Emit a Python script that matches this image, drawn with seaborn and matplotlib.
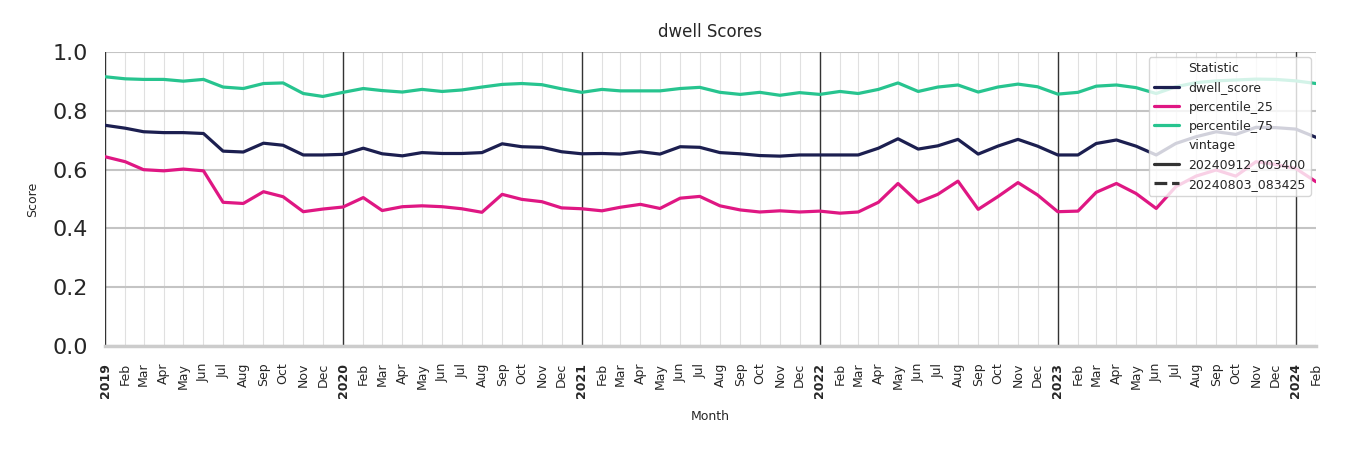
import matplotlib
matplotlib.use("Agg")
import matplotlib.pyplot as plt
import seaborn as sns
import pandas as pd
import numpy as np

months = pd.date_range("2019-01-01", "2024-02-01", freq="MS")

dwell_score = [0.751, 0.741, 0.729, 0.726, 0.726, 0.723, 0.663, 0.660, 0.690, 0.683,
               0.650, 0.650, 0.652, 0.673, 0.654, 0.647, 0.658, 0.655, 0.655, 0.658,
               0.688, 0.678, 0.676, 0.661, 0.654, 0.655, 0.653, 0.661, 0.653, 0.678,
               0.676, 0.658, 0.654, 0.648, 0.646, 0.650, 0.650, 0.650, 0.650, 0.673,
               0.705, 0.670, 0.681, 0.703, 0.653, 0.680, 0.703, 0.680, 0.650, 0.650,
               0.689, 0.701, 0.680, 0.650, 0.689, 0.712, 0.729, 0.720, 0.744, 0.743,
               0.738, 0.710]
percentile_25 = [0.644, 0.627, 0.600, 0.596, 0.602, 0.596, 0.489, 0.485, 0.525, 0.508,
                 0.457, 0.466, 0.473, 0.505, 0.461, 0.474, 0.477, 0.474, 0.467, 0.455,
                 0.516, 0.499, 0.491, 0.470, 0.467, 0.460, 0.472, 0.482, 0.468, 0.503,
                 0.509, 0.477, 0.463, 0.456, 0.460, 0.456, 0.459, 0.452, 0.456, 0.489,
                 0.553, 0.489, 0.516, 0.561, 0.465, 0.508, 0.556, 0.514, 0.457, 0.459,
                 0.523, 0.553, 0.519, 0.468, 0.542, 0.578, 0.599, 0.578, 0.627, 0.618,
                 0.604, 0.559]
percentile_75 = [0.916, 0.909, 0.907, 0.907, 0.901, 0.907, 0.881, 0.876, 0.893, 0.895,
                 0.859, 0.849, 0.863, 0.876, 0.869, 0.864, 0.873, 0.866, 0.871, 0.881,
                 0.890, 0.893, 0.889, 0.875, 0.863, 0.873, 0.868, 0.868, 0.868, 0.876,
                 0.880, 0.863, 0.856, 0.863, 0.853, 0.862, 0.856, 0.866, 0.859, 0.873,
                 0.895, 0.866, 0.881, 0.888, 0.864, 0.881, 0.891, 0.882, 0.857, 0.863,
                 0.884, 0.888, 0.879, 0.859, 0.882, 0.896, 0.902, 0.905, 0.908, 0.907,
                 0.902, 0.893]

statistics = ["dwell_score", "percentile_25", "percentile_75"]
vintages = ["20240912_003400", "20240803_083425"]
colors = ["#1c1f50", "#df1783", "#27c48f"]

frames = []
for name, vals in zip(statistics, [dwell_score, percentile_25, percentile_75]):
    frames.append(pd.DataFrame({"Month": months, "Score": vals,
                                "Statistic": name, "vintage": vintages[0]}))
df = pd.concat(frames, ignore_index=True)

sns.set_theme(style="whitegrid")
fig = plt.figure(figsize=(13.5, 4.5), dpi=100)
ax = fig.add_axes([0.0778, 0.231, 0.8970, 0.6533])

sns.lineplot(data=df, x="Month", y="Score", hue="Statistic", style="vintage",
             hue_order=statistics, style_order=vintages, palette=colors,
             linewidth=2.3, ax=ax)

ax.set_ylim(0, 1.0)
ax.set_xlim(months[0], months[-1])
ax.set_yticks([0.0, 0.2, 0.4, 0.6, 0.8, 1.0])
ax.tick_params(axis="y", labelsize=16, pad=6)

ax.set_xticks(months)
labels = [str(d.year) if d.month == 1 else d.strftime("%b") for d in months]
ax.set_xticklabels(labels, rotation=90, fontsize=9)
for d, t in zip(months, ax.get_xticklabels()):
    if d.month == 1:
        t.set_fontweight("bold")
ax.tick_params(axis="x", pad=6)

ax.yaxis.grid(True, color="#c4c4c4", linewidth=1.5)
ax.xaxis.grid(True, color="#e0e0e0", linewidth=0.8)
for d in months:
    if d.month == 1:
        ax.axvline(d, color="#333333", linewidth=1.0, zorder=1)

sns.despine(ax=ax, left=True, right=True, top=True)
ax.spines["bottom"].set_color("#cccccc")
ax.spines["bottom"].set_linewidth(2.5)

ax.set_title("dwell Scores", fontsize=12, pad=11)
ax.set_ylabel("Score", fontsize=9, labelpad=10)
ax.set_xlabel("Month", fontsize=9, labelpad=9)

leg = ax.legend(loc="upper right", fontsize=9, framealpha=0.8, borderaxespad=0.4)

fig.savefig("out.png", dpi=100)
